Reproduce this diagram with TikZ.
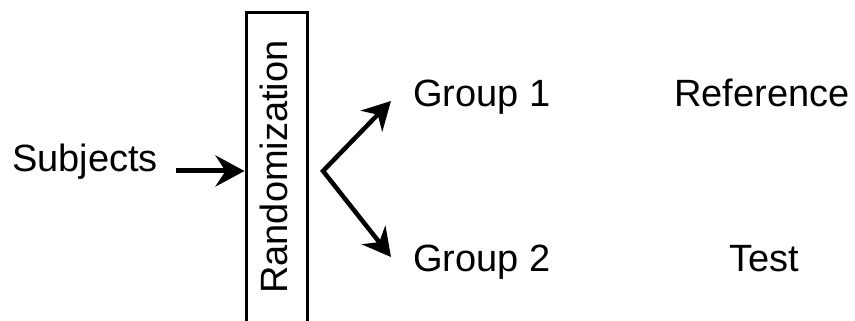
\documentclass[tikz,border=0pt]{standalone}
\usepackage{fontspec}
\setmainfont{Liberation Sans}
\usetikzlibrary{arrows.meta}

\begin{document}
\begin{tikzpicture}
  [
    x=1pt, y=1pt,
    flow/.style={line width=5pt, -{Stealth[length=29pt, width=31pt, inset=10pt]}},
    split/.style={line width=4.5pt, line join=miter, {Stealth[length=28pt, width=30pt, inset=9pt]}-{Stealth[length=28pt, width=30pt, inset=9pt]}},
    txt/.style={font=\fontsize{38}{44}\selectfont, inner sep=0pt, anchor=base west},
    randbox/.style={draw, line width=3pt, minimum width=61pt, minimum height=330pt}
  ]
  \clip (0,0) rectangle (855,321);

  \node[txt] (subjects) at (12,149) {Subjects};
  \node[randbox] (rand) at (276.5,143) {};
  \node[txt, anchor=base, rotate=90] (randtext) at (287,154) {Randomization};
  \node[txt] (group1) at (413,214) {Group 1};
  \node[txt] (group2) at (413,49) {Group 2};
  \node[txt, anchor=base] (reference) at (762,214) {Reference};
  \node[txt, anchor=base] (test) at (764,49) {Test};

  \coordinate (fork) at (323,150);
  \coordinate (up) at (391,220);
  \coordinate (down) at (391,64);

  \draw[flow, shorten <=18pt] (subjects.east |- fork) -- (rand.west |- fork);
  \draw[split] (up) -- (fork) -- (down);
\end{tikzpicture}
\end{document}
